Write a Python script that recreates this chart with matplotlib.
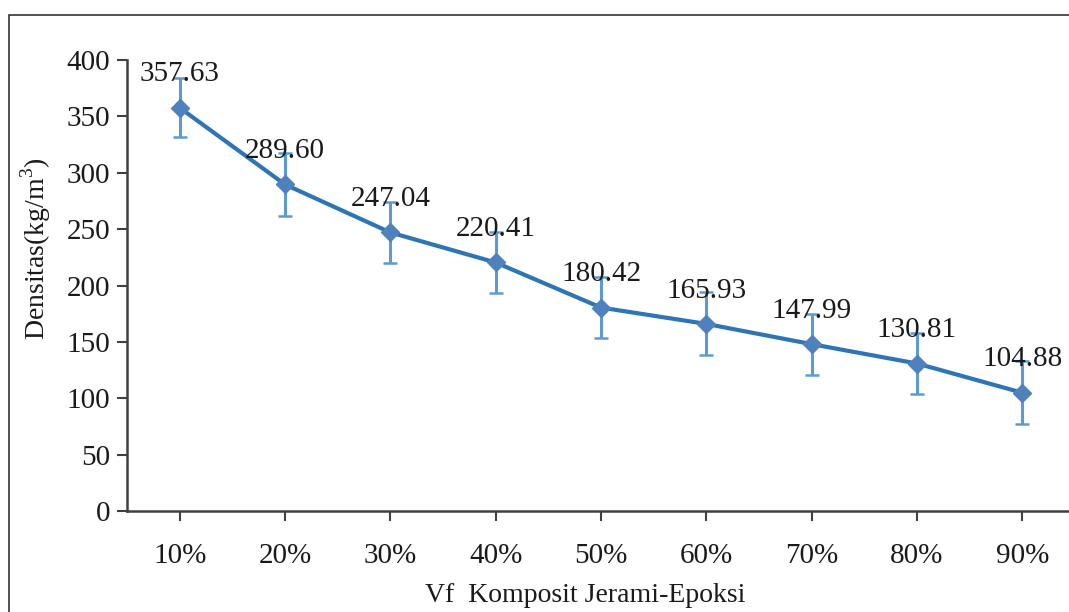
import matplotlib.pyplot as plt
from matplotlib.patches import Rectangle

categories = ['10%', '20%', '30%', '40%', '50%', '60%', '70%', '80%', '90%']
densitas = [357.63, 289.60, 247.04, 220.41, 180.42, 165.93, 147.99, 130.81, 104.88]
error = [26, 28, 27, 27, 27, 28, 27, 27, 28]

plt.rcParams['font.family'] = ['Liberation Serif', 'DejaVu Serif']
plt.rcParams['mathtext.fontset'] = 'custom'
plt.rcParams['mathtext.rm'] = 'Liberation Serif'

fig = plt.figure(figsize=(10.69, 6.12), dpi=100)
ax = fig.add_axes([127 / 1069, 101 / 612, 948 / 1069, 451 / 612])

x = list(range(len(categories)))
ax.errorbar(x, densitas, yerr=error, fmt='none', ecolor='#5b9bd5',
            elinewidth=2.2, capsize=5, capthick=1.8, zorder=2)
ax.plot(x, densitas, color='#2e75b6', lw=3, zorder=3)
ax.plot(x, densitas, linestyle='none', marker='D', ms=9, color='#4f81bd', zorder=4)

for xi, v in zip(x, densitas):
    ax.annotate(f'{v:.2f}', (xi, v), xytext=(0, 24), textcoords='offset points',
                ha='center', va='center', fontsize=21, color='#1a1a1a', zorder=5)

ax.set_xlim(-0.5, len(categories) - 0.5)
ax.set_ylim(0, 400)
ax.set_yticks(range(0, 401, 50))
ax.set_xticks(x)
ax.set_xticklabels(categories)

for side in ['top', 'right']:
    ax.spines[side].set_visible(False)
for side in ['left', 'bottom']:
    ax.spines[side].set_color('#404040')
    ax.spines[side].set_linewidth(1.8)
ax.tick_params(axis='both', colors='#404040', width=1.5, length=7, labelsize=21,
               labelcolor='#1a1a1a')
ax.tick_params(axis='x', pad=16)
ax.tick_params(axis='y', pad=5)

fig.text(36 / 1069, 1 - 249 / 612, 'Densitas(kg/m$^\\mathregular{3}$)', rotation=90,
         ha='center', va='center', fontsize=20, color='#1a1a1a')
fig.text(585 / 1069, 1 - 596 / 612, 'Vf  Komposit Jerami-Epoksi',
         ha='center', va='center', fontsize=20, color='#1a1a1a')

fig.patches.append(Rectangle((9 / 1069, -0.2), 1.2, 1.2 - 15 / 612,
                             transform=fig.transFigure, fill=False,
                             edgecolor='#333333', lw=1.2))

fig.savefig('out.png', dpi=100)
